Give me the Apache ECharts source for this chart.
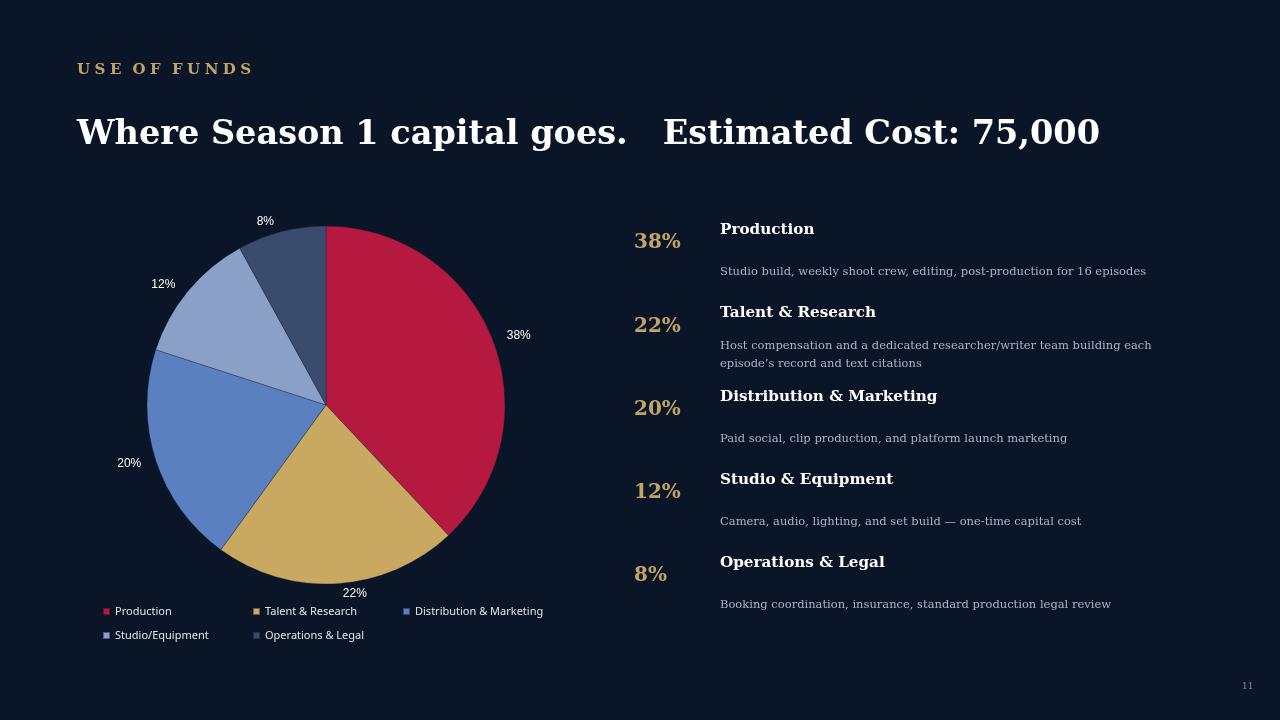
<!DOCTYPE html>
<html>
<head>
<meta charset="utf-8">
<script src="https://cdn.jsdelivr.net/npm/echarts@6/dist/echarts.min.js"></script>
<style>
    html, body { margin: 0; padding: 0; background: #0a1628; }
    #canvasContainer { width: 1280px; height: 720px; }
</style>
</head>
<body>
<div id="canvasContainer"></div>
<script>
// slice data (percent of budget)
var categories = ['Production', 'Talent & Research', 'Distribution & Marketing', 'Studio/Equipment', 'Operations & Legal'];
var values = [38, 22, 20, 12, 8];
var colors = ['#b5193f', '#c9a862', '#5b80c0', '#8aa0c6', '#3b4b6e'];

// right side breakdown
var headings = ['Production', 'Talent & Research', 'Distribution & Marketing', 'Studio & Equipment', 'Operations & Legal'];
var descriptions = [
    'Studio build, weekly shoot crew, editing, post-production for 16 episodes',
    'Host compensation and a dedicated researcher/writer team building each\nepisode\u2019s record and text citations',
    'Paid social, clip production, and platform launch marketing',
    'Camera, audio, lighting, and set build \u2014 one-time capital cost',
    'Booking coordination, insurance, standard production legal review'
];

var serif = 'Georgia, "DejaVu Serif", "Liberation Serif", serif';
var chart = echarts.init(document.getElementById("canvasContainer"));

// letter spaced kicker
var kicker = 'USE OF FUNDS'.split(' ').map(function (w) { return w.split('').join('\u2009\u200A'); }).join('\u2009 \u2009');

var graphics = [
    {
        type: 'text', x: 77, y: 70,
        style: { text: kicker, fill: '#c2a566', font: 'bold 15px ' + serif, verticalAlign: 'middle' }
    },
    {
        type: 'text', x: 77, y: 135,
        style: { text: 'Where Season 1 capital goes.   Estimated Cost: 75,000', fill: '#ffffff', font: 'bold 33.5px ' + serif, verticalAlign: 'middle' }
    },
    {
        type: 'text', x: 1242, y: 687,
        style: { text: '11', fill: '#7a8aa3', font: '9px ' + serif, verticalAlign: 'middle' }
    }
];

var baseY = 243;
var step = 83.3;
for (var i = 0; i < headings.length; i++) {
    var y = baseY + i * step;
    graphics.push({
        type: 'text', x: 634, y: y,
        style: { text: values[i] + '%', fill: '#c2a566', font: 'bold 20px ' + serif, verticalAlign: 'middle' }
    });
    graphics.push({
        type: 'text', x: 720, y: y - 13,
        style: { text: headings[i], fill: '#ffffff', font: 'bold 15.2px ' + serif, verticalAlign: 'middle' }
    });
    graphics.push({
        type: 'text', x: 720, y: y + 29,
        style: { text: descriptions[i], fill: '#aab4c6', font: '11.5px ' + serif, lineHeight: 18, verticalAlign: 'middle' }
    });
}

// one legend per item so the columns line up like the original grid
var legends = categories.map(function (c, i) {
    return {
        left: 97 + (i % 3) * 150,
        top: 601 + Math.floor(i / 3) * 24,
        icon: 'rect',
        itemWidth: 7,
        itemHeight: 7,
        textStyle: { color: '#dfe4ee', fontSize: 11, fontFamily: '"Noto Sans", "Liberation Sans", sans-serif' },
        data: [c]
    };
});

var option = {
    backgroundColor: '#0a1628',
    color: colors,
    legend: legends,
    graphic: graphics,
    series: [
        {
            type: 'pie',
            center: [326, 405],
            radius: 179,
            startAngle: 90,
            clockwise: true,
            animation: false,
            itemStyle: { borderColor: 'rgba(10,22,40,0.5)', borderWidth: 0.6 },
            label: {
                show: true,
                position: 'outside',
                formatter: '{c}%',
                color: '#ffffff',
                fontSize: 12,
                fontFamily: '"Liberation Sans", Arial, sans-serif'
            },
            labelLine: { show: false, length: 10, length2: 0 },
            emphasis: { disabled: true },
            data: categories.map(function (c, i) { return { name: c, value: values[i] }; })
        }
    ]
};
chart.setOption(option);
</script>
</body>
</html>
